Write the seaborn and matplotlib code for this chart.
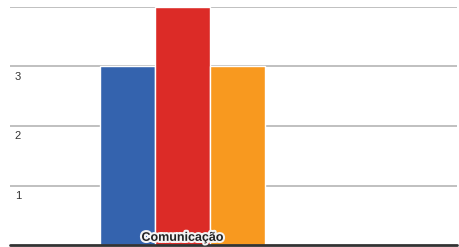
import matplotlib
matplotlib.use("Agg")
import matplotlib.pyplot as plt
import matplotlib.patheffects as pe
import seaborn as sns
import pandas as pd

categories = ["Comunicação"]
series = ["A", "B", "C"]
values = [3, 4, 3]
ytick_vals = [1, 2, 3]
ytick_labels = ["1", "2", "3"]
colors = ["#3463ae", "#dc2b27", "#f8991f"]

df = pd.DataFrame({"cat": categories * len(series), "serie": series, "val": values})

sns.set_theme(style="white")
plt.rcParams["font.family"] = ["Liberation Sans", "DejaVu Sans"]

W, H = 460, 247
fig = plt.figure(figsize=(W / 100, H / 100), dpi=100)
ax = fig.add_axes([10 / W, 2 / H, 447 / W, 238 / H])

sns.barplot(data=df, x="cat", y="val", hue="serie", palette=colors, ax=ax,
            legend=False, edgecolor="white", linewidth=1, saturation=1)

ax.set_ylim(0, 4)
ax.set_xlim(-0.837, 1.332)
for y in [1, 2, 3, 4]:
    ax.axhline(y, color="#bbbbbb", lw=1.3, zorder=0)
ax.axhline(0, color="#333333", lw=2, zorder=5, clip_on=False)

ax.set_yticks(ytick_vals)
ax.set_yticklabels(ytick_labels)
ax.tick_params(axis="y", length=0, pad=-3.5, labelsize=8, labelcolor="#333333")
for lab in ax.get_yticklabels():
    lab.set_horizontalalignment("left")
    lab.set_verticalalignment("top")
    lab.set_transform(lab.get_transform() + matplotlib.transforms.ScaledTranslation(0, -5 / 100, fig.dpi_scale_trans))

ax.set_xticks([])
ax.set_xlabel("")
ax.set_ylabel("")
for s in ax.spines.values():
    s.set_visible(False)

ax.text(0, 0.12, categories[0], ha="center", va="center", fontsize=9,
        fontweight="bold", color="#222222", zorder=6,
        path_effects=[pe.withStroke(linewidth=3, foreground="#f4f4f4")])

fig.savefig("out.png", dpi=100)
